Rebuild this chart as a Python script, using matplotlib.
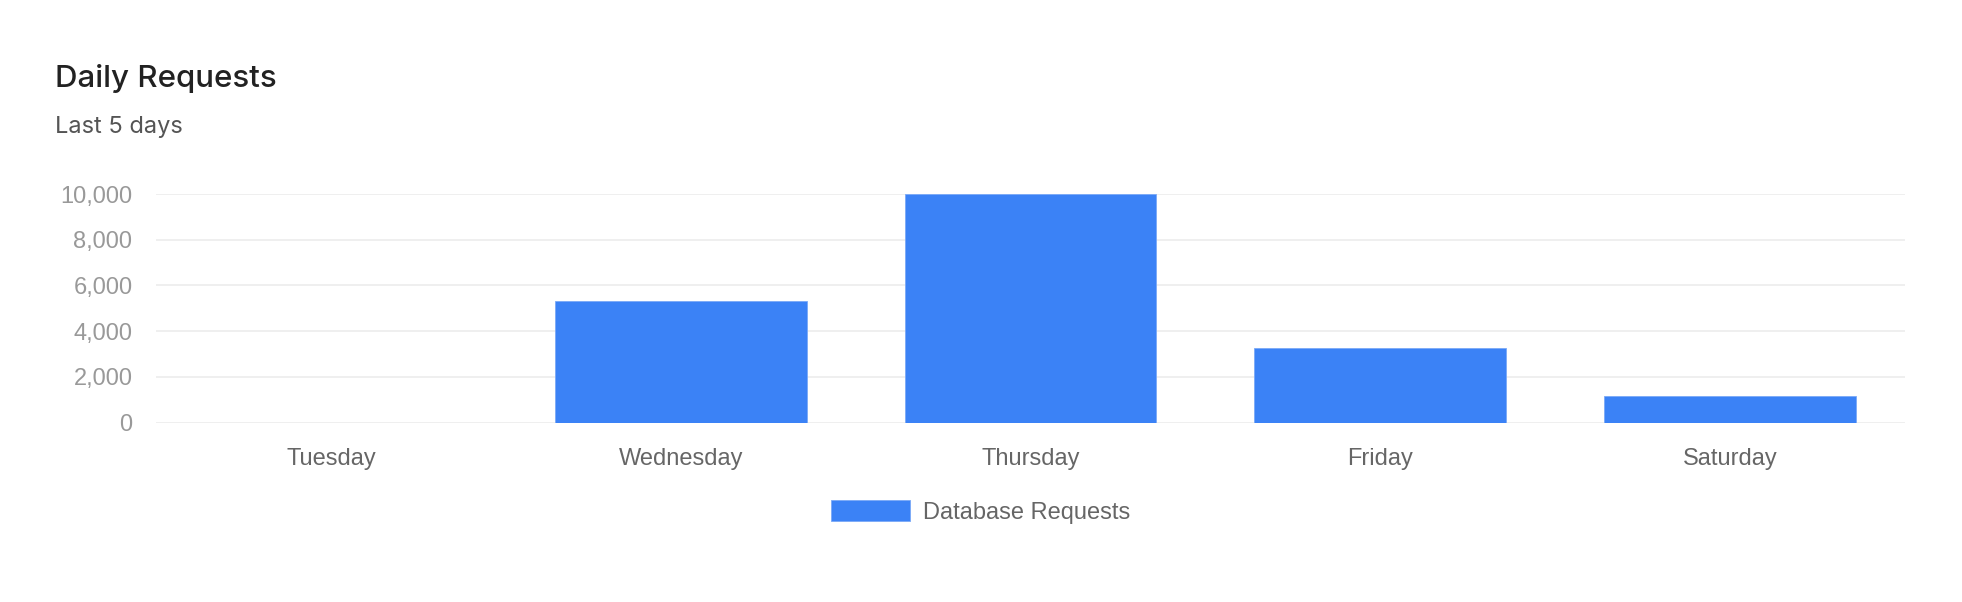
import matplotlib
matplotlib.use("Agg")
import matplotlib.pyplot as plt
from matplotlib.ticker import FuncFormatter

# data
days = ["Tuesday", "Wednesday", "Thursday", "Friday", "Saturday"]
requests = [0, 5300, 10000, 3250, 1150]
series_name = "Database Requests"
y_ticks = [0, 2000, 4000, 6000, 8000, 10000]

BLUE = "#3b82f6"
TICK_FONT = ["Liberation Sans", "DejaVu Sans"]

fig = plt.figure(figsize=(19.62, 6.02), dpi=100)
ax = fig.add_axes([156 / 1962, 179.3 / 602, 1749 / 1962, 228.7 / 602])

x = list(range(len(days)))
ax.bar(x, requests, width=0.72, color=BLUE, edgecolor="#7aa9f7",
       linewidth=0.6, label=series_name, zorder=2)

ax.set_xlim(-0.5, len(days) - 0.5)
ax.set_ylim(0, 10000)
ax.set_yticks(y_ticks)
ax.yaxis.set_major_formatter(FuncFormatter(lambda v, p: f"{int(v):,}"))
ax.set_xticks(x)
ax.set_xticklabels(days)

ax.grid(axis="y", color="#ebebeb", linewidth=1.1, zorder=0)
ax.set_axisbelow(True)
for s in ax.spines.values():
    s.set_visible(False)
ax.tick_params(axis="both", length=0)
ax.tick_params(axis="y", pad=17, labelcolor="#999999", labelsize=17)
ax.tick_params(axis="x", pad=18.5, labelcolor="#666666", labelsize=17)
for lab in ax.get_yticklabels() + ax.get_xticklabels():
    lab.set_family(TICK_FONT)

fig.text(55 / 1962, 1 - 87.3 / 602, "Daily Requests", fontsize=22.5,
         family=["Inter", "DejaVu Sans"], fontweight="medium",
         color="#222222", va="baseline", ha="left")
fig.text(55 / 1962, 1 - 133.3 / 602, "Last 5 days", fontsize=17,
         family=["Inter", "DejaVu Sans"], color="#555555",
         va="baseline", ha="left")

leg = fig.legend(loc="center", bbox_to_anchor=(0.5, 90 / 602), frameon=False,
                 prop={"family": "Liberation Sans", "size": 17},
                 handlelength=3.35, handleheight=0.97, handletextpad=0.55)
for t in leg.get_texts():
    t.set_color("#666666")

fig.savefig("out.png", dpi=100, facecolor="white")
